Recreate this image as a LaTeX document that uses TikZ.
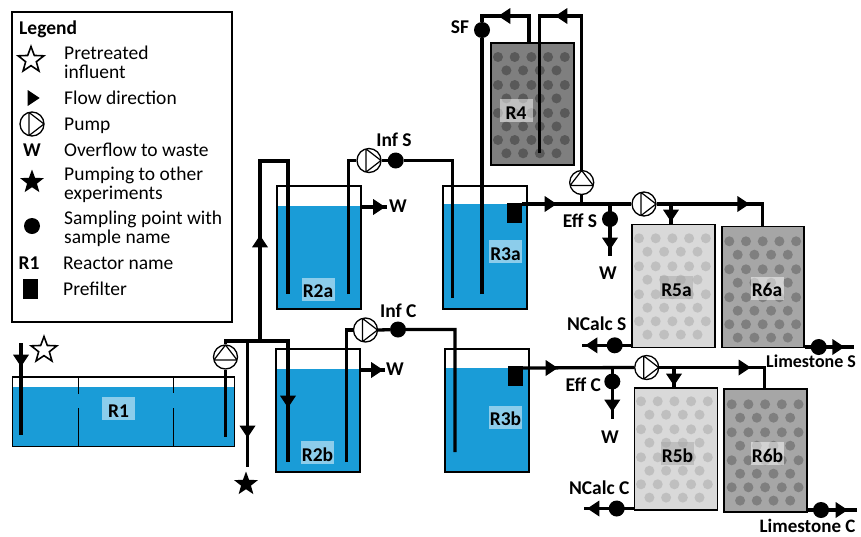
\documentclass[tikz,border=0pt]{standalone}
\usepackage{fontspec}
\setmainfont{Carlito}
\usetikzlibrary{shapes.geometric}
\definecolor{waterblue}{HTML}{1A9CD7}
\definecolor{bedpale}{HTML}{D9D9D9}
\definecolor{bedpaledot}{HTML}{BFBFBF}
\definecolor{bedmid}{HTML}{A6A6A6}
\definecolor{bedmiddot}{HTML}{7F7F7F}
\definecolor{beddark}{HTML}{7F7F7F}
\definecolor{beddarkdot}{HTML}{595959}
\tikzstyle{pipe} = [line width=3.3pt, line join=miter]
\tikzstyle{baffle} = [line width=1.5pt]
\tikzstyle{tank} = [rectangle, draw=black, line width=1.5pt, inner sep=0pt]
\tikzstyle{bed} = [rectangle, draw=black, line width=1.7pt, inner sep=0pt]
\tikzstyle{prefilter} = [rectangle, fill=black, inner sep=0pt, minimum width=15pt, minimum height=20pt]
\tikzstyle{sample} = [circle, fill=black, inner sep=0pt, minimum size=16pt]
\tikzstyle{tipright} = [isosceles triangle, isosceles triangle stretches, fill=black, inner sep=0pt, minimum width=16pt, minimum height=12pt, shape border rotate=0]
\tikzstyle{tipleft} = [tipright, shape border rotate=180]
\tikzstyle{tipup} = [tipright, shape border rotate=90]
\tikzstyle{tipdown} = [tipright, shape border rotate=270]
\tikzstyle{openstar} = [star, star points=5, star point ratio=2.4, draw=black, fill=white, line width=1.6pt, inner sep=0pt, minimum size=27pt]
\tikzstyle{fullstar} = [star, star points=5, star point ratio=2.4, fill=black, inner sep=0pt, minimum size=25pt]
\tikzstyle{pumpright} = [circle, draw=black, fill=white, line width=1.3pt, inner sep=0pt, minimum size=24pt, path picture={\draw [line width=1.2pt] ([shift={(-3pt,11.6pt)}]path picture bounding box.center) -- ([shift={(12pt,0pt)}]path picture bounding box.center) -- ([shift={(-3pt,-11.6pt)}]path picture bounding box.center) -- cycle;}]
\tikzstyle{pumpup} = [circle, draw=black, fill=white, line width=1.3pt, inner sep=0pt, minimum size=24pt, path picture={\draw [line width=1.2pt] ([shift={(-11.6pt,-3pt)}]path picture bounding box.center) -- ([shift={(0pt,12pt)}]path picture bounding box.center) -- ([shift={(11.6pt,-3pt)}]path picture bounding box.center) -- cycle;}]
\tikzstyle{legendtext} = [anchor=west, align=left, inner sep=0pt, font=\fontsize{19.5}{19}\selectfont]
\tikzstyle{tag} = [inner sep=0pt, font=\fontsize{19.5}{19}\selectfont\bfseries]
\tikzstyle{reactorname} = [rectangle, inner sep=0pt, minimum width=33pt, minimum height=23pt, text height=17pt, text depth=0pt, fill=white, fill opacity=0.5, text opacity=1, font=\fontsize{19.5}{19}\selectfont\bfseries]
\newcommand{\pellets}[3]{
	\foreach \dy in {0,28,56,83} \foreach \dx in {0,16.7,33.4,50.1,66.8} \fill [#3] (#1+\dx,#2+\dy) circle (5pt);
	\foreach \dy in {13.4,41.4,69.4,96.3} \foreach \dx in {8.4,25.1,41.8,58.5} \fill [#3] (#1+\dx,#2+\dy) circle (5pt);
}
\begin{document}
\begin{tikzpicture}[x=1pt, y=-1pt]
	\useasboundingbox (0,0) rectangle (861,536);

	\node (legend) [rectangle, draw=black, line width=1.5pt, minimum width=220pt, minimum height=310pt] at (122,167) {};
	\node (legendhead) [tag, anchor=west] at (19,29) {Legend};
	\node (lgstar) [openstar] at (31,60) {};
	\node (lgstartext) [legendtext] at (64,62.5) {Pretreated\\influent};
	\node (lgtip) [tipright] at (32,98) {};
	\node (lgtiptext) [legendtext] at (64,98) {Flow direction};
	\node (lgpump) [pumpright] at (32,124) {};
	\node (lgpumptext) [legendtext] at (64,126) {Pump};
	\node (lgw) [tag] at (32,150) {W};
	\node (lgwtext) [legendtext] at (64,150) {Overflow to waste};
	\node (lgfull) [fullstar] at (32,182) {};
	\node (lgfulltext) [legendtext] at (64,184.5) {Pumping to other\\experiments};
	\node (lgdot) [sample] at (32,226) {};
	\node (lgdottext) [legendtext] at (64,228.5) {Sampling point with\\sample name};
	\node (lgname) [tag] at (29,263) {R1};
	\node (lgnametext) [legendtext] at (63,263) {Reactor name};
	\node (lgfilter) [prefilter] at (30.5,289) {};
	\node (lgfiltertext) [legendtext] at (63,289) {Prefilter};

	\fill [waterblue] (12.5,387) rectangle (234.5,446.5);
	\fill [waterblue] (277,206) rectangle (361,309);
	\fill [waterblue] (443,204) rectangle (527,309);
	\fill [waterblue] (276,369) rectangle (360,472);
	\fill [waterblue] (445,368) rectangle (529,472);

	\node (R1) [tank, minimum width=222pt, minimum height=69.5pt] at (123.5,411.75) {};
	\node (R2a) [tank, minimum width=84pt, minimum height=123pt] at (319,247.5) {};
	\node (R3a) [tank, minimum width=84pt, minimum height=123pt] at (485,247.5) {};
	\node (R2b) [tank, minimum width=84pt, minimum height=123pt] at (318,410.5) {};
	\node (R3b) [tank, minimum width=84pt, minimum height=123pt] at (487,410.5) {};
	\draw [baffle] (78.5,377) -- (78.5,394);
	\draw [baffle] (78.5,408) -- (78.5,446);
	\draw [baffle] (173.5,377) -- (173.5,393);
	\draw [baffle] (173.5,408) -- (173.5,446);

	\node (R4) [bed, fill=beddark, minimum width=83pt, minimum height=122pt] at (532.5,104) {};
	\node (R5a) [bed, fill=bedpale, minimum width=83pt, minimum height=123pt] at (673.5,286) {};
	\node (R6a) [bed, fill=bedmid, minimum width=82.5pt, minimum height=121pt] at (763,287) {};
	\node (R5b) [bed, fill=bedpale, minimum width=83pt, minimum height=122pt] at (676,449) {};
	\node (R6b) [bed, fill=bedmid, minimum width=83pt, minimum height=123pt] at (765.5,450.5) {};
	\pellets{498}{57}{beddarkdot}
	\pellets{639}{238.3}{bedpaledot}
	\pellets{729.3}{241.3}{bedmiddot}
	\pellets{641}{401.3}{bedpaledot}
	\pellets{731.7}{404.3}{bedmiddot}

	\node (nameR1) [reactorname] at (118.5,408.5) {R1};
	\node (nameR2a) [reactorname] at (318,289) {R2a};
	\node (nameR3a) [reactorname] at (505.5,251.5) {R3a};
	\node (nameR2b) [reactorname] at (317.5,452.5) {R2b};
	\node (nameR3b) [reactorname] at (505.5,417) {R3b};
	\node (nameR4) [reactorname] at (516,110.5) {R4};
	\node (nameR5a) [reactorname, fill=black!35] at (676.5,287.5) {R5a};
	\node (nameR6a) [reactorname] at (767,288) {R6a};
	\node (nameR5b) [reactorname, fill=black!35] at (677.5,453.5) {R5b};
	\node (nameR6b) [reactorname] at (767.5,453.5) {R6b};

	\node (filterS) [prefilter] at (514.5,213) {};
	\node (filterC) [prefilter] at (515.5,376) {};
	\node (pumpfeed) [pumpup] at (225.5,357) {};
	\node (pumpS) [pumpright] at (369,160.5) {};
	\node (pumpC) [pumpright] at (365.5,330) {};
	\node (pumpR4) [pumpup] at (581.7,182.5) {};
	\node (pumpEffS) [pumpright] at (644,204) {};
	\node (pumpEffC) [pumpright] at (646.7,367.5) {};

	\node (infS) [sample] at (395.7,160.5) {};
	\node (infC) [sample] at (398,329.5) {};
	\node (SF) [sample] at (482,30) {};
	\node (effS) [sample] at (610,219) {};
	\node (effC) [sample] at (612.3,381.5) {};
	\node (ncalcS) [sample] at (614.7,345.3) {};
	\node (ncalcC) [sample] at (616.7,508.5) {};
	\node (limeS) [sample] at (818.7,347) {};
	\node (limeC) [sample] at (821,510) {};

	\coordinate (feedtop) at (21,343);
	\coordinate (feedend) at (21,435);
	\coordinate (suction) at (225.5,437);
	\coordinate (header) at (288,341);
	\coordinate (inR2b) at (288,462);
	\coordinate (teeup) at (260,341);
	\coordinate (riseup) at (260,161);
	\coordinate (overR2a) at (288,161);
	\coordinate (inR2a) at (288,294);
	\coordinate (teedown) at (247.5,341);
	\coordinate (toother) at (247.5,467);
	\coordinate (outR2a) at (348.7,294);
	\coordinate (upR2a) at (348.7,160.5);
	\coordinate (dropS) at (452.7,160.5);
	\coordinate (inR3a) at (452.7,298);
	\coordinate (outR2b) at (346.7,462);
	\coordinate (upR2b) at (346.7,330);
	\coordinate (dropC) at (455,329.5);
	\coordinate (inR3b) at (455,452);
	\coordinate (wR2aA) at (361,207);
	\coordinate (wR2aB) at (387,207);
	\coordinate (wR2bA) at (360,370);
	\coordinate (wR2bB) at (385,370);
	\coordinate (inR4back) at (482,294);
	\coordinate (topSF) at (482,16);
	\coordinate (topR4) at (529,16);
	\coordinate (inR4top) at (529,43);
	\coordinate (dipR4) at (539.3,153);
	\coordinate (topdip) at (539.3,16);
	\coordinate (toppump) at (581.7,16);
	\coordinate (stemS) at (581.7,204);
	\coordinate (lineS) at (522,204);
	\coordinate (turnS) at (762.7,204);
	\coordinate (inR6a) at (762.7,226);
	\coordinate (teeR5a) at (671,204);
	\coordinate (inR5a) at (671,224);
	\coordinate (teeEffS) at (610,204);
	\coordinate (wEffS) at (610,256);
	\coordinate (lineC) at (523,368);
	\coordinate (turnC) at (764.3,367.5);
	\coordinate (inR6b) at (764.3,388);
	\coordinate (teeR5b) at (674,367.5);
	\coordinate (inR5b) at (674,387);
	\coordinate (teeEffC) at (612.3,367.5);
	\coordinate (wEffC) at (612.3,419);
	\coordinate (outR5a) at (632,345.3);
	\coordinate (endNS) at (581.7,345.3);
	\coordinate (outR5b) at (634.5,508.5);
	\coordinate (endNC) at (584,508.5);
	\coordinate (outR6a) at (804.5,347);
	\coordinate (endLS) at (854,347);
	\coordinate (outR6b) at (807,510);
	\coordinate (endLC) at (856.7,510);

	\draw [pipe] (feedtop) -- (feedend);
	\draw [pipe] (pumpfeed.south) -- (suction);
	\draw [pipe] (pumpfeed.north) |- (header) -- (inR2b);
	\draw [pipe] (teeup) -- (riseup) -- (overR2a) -- (inR2a);
	\draw [pipe] (teedown) -- (toother);
	\draw [pipe] (outR2a) -- (upR2a) -- (pumpS.west);
	\draw [pipe] (pumpS.east) -- (infS) -- (dropS) -- (inR3a);
	\draw [pipe] (outR2b) -- (upR2b) -- (pumpC.west);
	\draw [pipe] (pumpC.east) -- (infC) -- (dropC) -- (inR3b);
	\draw [pipe] (wR2aA) -- (wR2aB);
	\draw [pipe] (wR2bA) -- (wR2bB);
	\draw [pipe] (inR4back) -- (SF) -- (topSF) -- (topR4) -- (inR4top);
	\draw [pipe] (dipR4) -- (topdip) -- (toppump) -- (pumpR4.north);
	\draw [pipe] (pumpR4.south) -- (stemS);
	\draw [pipe] (lineS) -- (pumpEffS.west);
	\draw [pipe] (pumpEffS.east) -- (turnS) -- (inR6a);
	\draw [pipe] (teeR5a) -- (inR5a);
	\draw [pipe] (teeEffS) -- (wEffS);
	\draw [pipe] (lineC) -- (pumpEffC.west);
	\draw [pipe] (pumpEffC.east) -- (turnC) -- (inR6b);
	\draw [pipe] (teeR5b) -- (inR5b);
	\draw [pipe] (teeEffC) -- (wEffC);
	\draw [pipe] (outR5a) -- (endNS);
	\draw [pipe] (outR5b) -- (endNC);
	\draw [pipe] (outR6a) -- (endLS);
	\draw [pipe] (outR6b) -- (endLC);

	\node (tipfeed) [tipdown] at (21,359) {};
	\node (tipup) [tipup] at (260,243) {};
	\node (tipother) [tipdown] at (247.5,430) {};
	\node (tipR2b) [tipdown] at (288,400) {};
	\node (tipwa) [tipright] at (377.5,207) {};
	\node (tipwb) [tipright] at (375.5,370) {};
	\node (tipSF) [tipleft] at (506,16) {};
	\node (tipdip) [tipleft] at (563,16) {};
	\node (tipS) [tipright] at (549,204) {};
	\node (tipC) [tipright] at (550,368) {};
	\node (tipSb) [tipright] at (741.7,204) {};
	\node (tipCb) [tipright] at (743,367.5) {};
	\node (tipR5a) [tipdown] at (671,214) {};
	\node (tipR5b) [tipdown] at (674,378) {};
	\node (tipEffS) [tipdown] at (610,242) {};
	\node (tipEffC) [tipdown] at (612.3,404) {};
	\node (tipNS) [tipleft] at (593,345.3) {};
	\node (tipNC) [tipleft] at (595,508.5) {};
	\node (tipLS) [tipright] at (836.7,347) {};
	\node (tipLC) [tipright] at (840,510) {};

	\node (influent) [openstar] at (44,350) {};
	\node (other) [fullstar] at (246,484) {};

	\node (tagInfS) [tag] at (394,140) {Inf S};
	\node (tagInfC) [tag] at (398.3,311) {Inf C};
	\node (tagSF) [tag] at (460,27) {SF};
	\node (tagEffS) [tag] at (580,221) {Eff S};
	\node (tagEffC) [tag] at (583.3,384.3) {Eff C};
	\node (tagNS) [tag] at (596.7,324) {NCalc S};
	\node (tagNC) [tag] at (599.3,487.7) {NCalc C};
	\node (tagLS) [tag, anchor=west, font=\fontsize{18}{19}\selectfont\bfseries] at (766,361.7) {Limestone S};
	\node (tagLC) [tag, font=\fontsize{19}{19}\selectfont\bfseries] at (807.5,525.5) {Limestone C};
	\node (tagWa) [tag] at (398,206) {W};
	\node (tagWb) [tag] at (395,369.5) {W};
	\node (tagWc) [tag] at (608,273) {W};
	\node (tagWd) [tag] at (610,436.7) {W};
\end{tikzpicture}
\end{document}
